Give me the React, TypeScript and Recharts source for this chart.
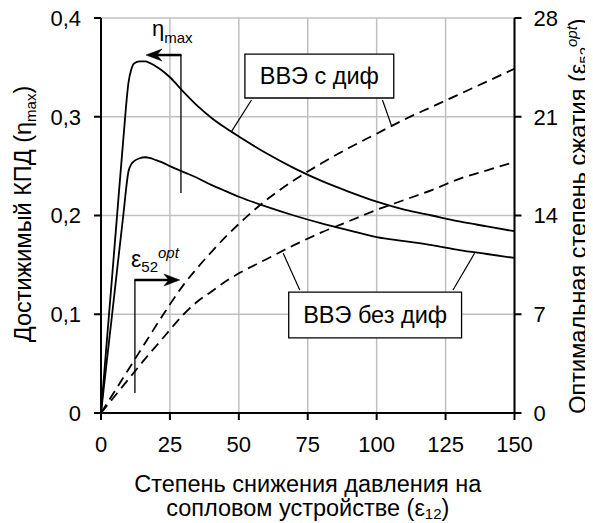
import React from 'react';
import {
  ComposedChart,
  Line,
  XAxis,
  YAxis,
  CartesianGrid,
  ReferenceLine,
  ReferenceArea,
  ReferenceDot,
  Label,
} from 'recharts';

// Степень снижения давления на сопловом устройстве (ε12)
const xValues = [0, 2, 4, 6, 8, 10, 11, 12, 14, 16, 18, 20, 22, 25, 30, 35, 40, 45, 50, 60, 70, 80, 90, 100, 110, 120, 130, 140, 150];
// Достижимый КПД, ВВЭ с диф
const etaWithDiff = [0, 0.069, 0.137, 0.206, 0.274, 0.335, 0.348, 0.354, 0.356, 0.356, 0.354, 0.351, 0.347, 0.340, 0.325, 0.311, 0.299, 0.289, 0.280, 0.263, 0.248, 0.235, 0.224, 0.214, 0.206, 0.200, 0.194, 0.189, 0.184];
// Достижимый КПД, ВВЭ без диф
const etaNoDiff = [0, 0.050, 0.099, 0.149, 0.198, 0.245, 0.252, 0.255, 0.258, 0.259, 0.258, 0.256, 0.254, 0.250, 0.244, 0.238, 0.231, 0.225, 0.219, 0.209, 0.200, 0.192, 0.185, 0.178, 0.174, 0.170, 0.165, 0.161, 0.157];
// Оптимальная степень сжатия, ВВЭ с диф
const epsWithDiff = [0, 0.62, 1.24, 1.86, 2.48, 3.1, 3.4, 3.72, 4.34, 4.96, 5.58, 6.2, 6.8, 7.7, 9.1, 10.3, 11.4, 12.45, 13.4, 15.1, 16.5, 17.7, 18.8, 19.8, 20.8, 21.7, 22.6, 23.5, 24.4];
// Оптимальная степень сжатия, ВВЭ без диф
const epsNoDiff = [0, 0.48, 0.96, 1.44, 1.92, 2.4, 2.64, 2.88, 3.36, 3.84, 4.3, 4.75, 5.2, 5.9, 7.0, 7.9, 8.6, 9.3, 9.9, 10.9, 11.9, 12.8, 13.6, 14.4, 15.1, 15.8, 16.6, 17.2, 17.8];

const xTicks = [0, 25, 50, 75, 100, 125, 150];
const etaTicks = [0, 0.1, 0.2, 0.3, 0.4];
const epsTicks = [0, 7, 14, 21, 28];

const data = xValues.map((x, i) => ({
  x,
  etaD: etaWithDiff[i],
  etaN: etaNoDiff[i],
  epsD: epsWithDiff[i],
  epsN: epsNoDiff[i],
}));

const FONT = '"Liberation Sans", Arial, Helvetica, sans-serif';
const TICK_FS = 22;
const FS = 23.5;
const SUB = 15;

const W = 585;
const H = 515;

const arrowShape = (width: number) => (props: any) => {
  const { x1, y1, x2, y2 } = props;
  const dx = x2 - x1;
  const dy = y2 - y1;
  const len = Math.hypot(dx, dy) || 1;
  const ux = dx / len;
  const uy = dy / len;
  const px = -uy;
  const py = ux;
  const L = 16;
  const Wd = 6;
  const N = 11;
  const bx = x2 - ux * L;
  const by = y2 - uy * L;
  const nx = x2 - ux * N;
  const ny = y2 - uy * N;
  const pts = `${x2},${y2} ${bx + px * Wd},${by + py * Wd} ${nx},${ny} ${bx - px * Wd},${by - py * Wd}`;
  return (
    <g>
      <line x1={x1} y1={y1} x2={nx} y2={ny} stroke="#000" strokeWidth={width} />
      <polygon points={pts} fill="#000" stroke="#000" strokeWidth={0.5} />
    </g>
  );
};

const plainLine = (width: number) => (props: any) => {
  const { x1, y1, x2, y2 } = props;
  return <line x1={x1} y1={y1} x2={x2} y2={y2} stroke="#000" strokeWidth={width} />;
};

const etaLabelShape = (props: any) => (
  <text x={props.cx} y={props.cy} fontFamily={FONT} fontSize={22} fill="#000">
    η<tspan fontSize={SUB} dy={7}>max</tspan>
  </text>
);

const epsLabelShape = (props: any) => (
  <text x={props.cx} y={props.cy} fontFamily={FONT} fontSize={23} fill="#000">
    ε<tspan fontSize={SUB} dy={5}>52</tspan>
    <tspan fontSize={SUB} dy={-14} fontStyle="italic">opt</tspan>
  </text>
);

const fmtEta = (v: number) => (v === 0 ? '0' : String(v).replace('.', ','));

export default function App() {
  return (
    <div style={{ width: W, height: H }}>
      <ComposedChart
        width={W}
        height={H}
        data={data}
        margin={{ top: 10, left: 33, right: 18.5, bottom: 70 }}
        style={{ fontFamily: FONT, overflow: 'visible' }}
      >
        <CartesianGrid
          yAxisId="left"
          stroke="#c0c0c0"
          strokeWidth={1.5}
          horizontalValues={etaTicks}
          verticalValues={xTicks}
        />
        <XAxis
          dataKey="x"
          type="number"
          domain={[0, 150]}
          ticks={xTicks}
          interval={0}
          height={40}
          tickSize={7}
          tickMargin={16}
          axisLine={{ stroke: '#000', strokeWidth: 2 }}
          tickLine={{ stroke: '#000', strokeWidth: 2 }}
          tick={{ fill: '#000', fontSize: TICK_FS, fontFamily: FONT }}
        >
          <Label
            content={() => (
              <g fontFamily={FONT} fontSize={FS} fill="#000">
                <text x={299.75} y={484} textAnchor="middle">Степень снижения давления на</text>
                <text x={299.75} y={508} textAnchor="middle">
                  сопловом устройстве (ε<tspan fontSize={SUB} dy={3}>12</tspan>
                  <tspan dy={-3}>)</tspan>
                </text>
              </g>
            )}
          />
        </XAxis>
        <YAxis
          yAxisId="left"
          type="number"
          domain={[0, 0.4]}
          ticks={etaTicks}
          interval={0}
          width={60}
          tickSize={7}
          tickMargin={13}
          tickFormatter={fmtEta}
          axisLine={{ stroke: '#000', strokeWidth: 2 }}
          tickLine={{ stroke: '#000', strokeWidth: 2 }}
          tick={{ fill: '#000', fontSize: TICK_FS, fontFamily: FONT }}
        >
          <Label
            content={() => (
              <text
                x={23}
                y={206}
                transform="rotate(-90 23 206)"
                textAnchor="middle"
                fontFamily={FONT}
                fontSize={FS}
                fill="#000"
              >
                Достижимый КПД (η<tspan fontSize={SUB} dy={5}>max</tspan>
                <tspan dy={-5}>)</tspan>
              </text>
            )}
          />
        </YAxis>
        <YAxis
          yAxisId="right"
          orientation="right"
          type="number"
          domain={[0, 28]}
          ticks={epsTicks}
          interval={0}
          width={60}
          tickSize={7}
          tickMargin={12}
          axisLine={{ stroke: '#000', strokeWidth: 2 }}
          tickLine={{ stroke: '#000', strokeWidth: 2 }}
          tick={{ fill: '#000', fontSize: TICK_FS, fontFamily: FONT }}
        >
          <Label
            content={() => (
              <text
                x={578}
                y={208}
                transform="rotate(-90 578 208)"
                textAnchor="middle"
                fontFamily={FONT}
                fontSize={FS}
                fill="#000"
              >
                Оптимальная степень сжатия (ε<tspan fontSize={SUB} dy={4}>52</tspan>
                <tspan fontSize={SUB} dy={-13} fontStyle="italic">opt</tspan>
                <tspan dy={9}>)</tspan>
              </text>
            )}
          />
        </YAxis>

        <Line yAxisId="left" type="monotone" dataKey="etaD" stroke="#000" strokeWidth={1.8} dot={false} isAnimationActive={false} />
        <Line yAxisId="left" type="monotone" dataKey="etaN" stroke="#000" strokeWidth={1.8} dot={false} isAnimationActive={false} />
        <Line yAxisId="right" type="monotone" dataKey="epsD" stroke="#000" strokeWidth={1.8} strokeDasharray="10 6" dot={false} isAnimationActive={false} />
        <Line yAxisId="right" type="monotone" dataKey="epsN" stroke="#000" strokeWidth={1.8} strokeDasharray="10 6" dot={false} isAnimationActive={false} />

        {/* ВВЭ с диф */}
        <ReferenceArea
          yAxisId="left"
          x1={52.2}
          x2={106.2}
          y1={0.319}
          y2={0.3635}
          fill="#fff"
          fillOpacity={1}
          stroke="#000"
          strokeWidth={1.3}
          label={{ value: 'ВВЭ с диф', position: 'center', fontSize: FS, fill: '#000', fontFamily: FONT }}
        />
        <ReferenceLine yAxisId="left" segment={[{ x: 54.6, y: 0.317 }, { x: 47.3, y: 0.285 }]} shape={plainLine(1.2)} />
        <ReferenceLine yAxisId="left" segment={[{ x: 102.1, y: 0.317 }, { x: 105.3, y: 0.2917 }]} shape={plainLine(1.2)} />

        {/* ВВЭ без диф */}
        <ReferenceArea
          yAxisId="left"
          x1={68.1}
          x2={130.8}
          y1={0.076}
          y2={0.1225}
          fill="#fff"
          fillOpacity={1}
          stroke="#000"
          strokeWidth={1.3}
          label={{ value: 'ВВЭ без диф', position: 'center', fontSize: FS, fill: '#000', fontFamily: FONT }}
        />
        <ReferenceLine yAxisId="left" segment={[{ x: 127.7, y: 0.1246 }, { x: 135.5, y: 0.1617 }]} shape={plainLine(1.2)} />
        <ReferenceLine yAxisId="left" segment={[{ x: 72.1, y: 0.1246 }, { x: 66.1, y: 0.1617 }]} shape={plainLine(1.2)} />

        {/* ηmax arrow */}
        <ReferenceLine yAxisId="left" segment={[{ x: 29.0, y: 0.2228 }, { x: 29.0, y: 0.3625 }]} shape={plainLine(1.3)} />
        <ReferenceLine yAxisId="left" segment={[{ x: 29.2, y: 0.3625 }, { x: 16.3, y: 0.3625 }]} shape={arrowShape(2.5)} />
        <ReferenceDot yAxisId="left" x={18.5} y={0.3818} r={0} shape={etaLabelShape} />

        {/* ε52opt arrow */}
        <ReferenceLine yAxisId="left" segment={[{ x: 12.3, y: 0.0203 }, { x: 12.3, y: 0.1347 }]} shape={plainLine(1.3)} />
        <ReferenceLine yAxisId="left" segment={[{ x: 12.1, y: 0.1347 }, { x: 28.6, y: 0.1347 }]} shape={arrowShape(2.5)} />
        <ReferenceDot yAxisId="left" x={10.9} y={0.148} r={0} shape={epsLabelShape} />
      </ComposedChart>
    </div>
  );
}
